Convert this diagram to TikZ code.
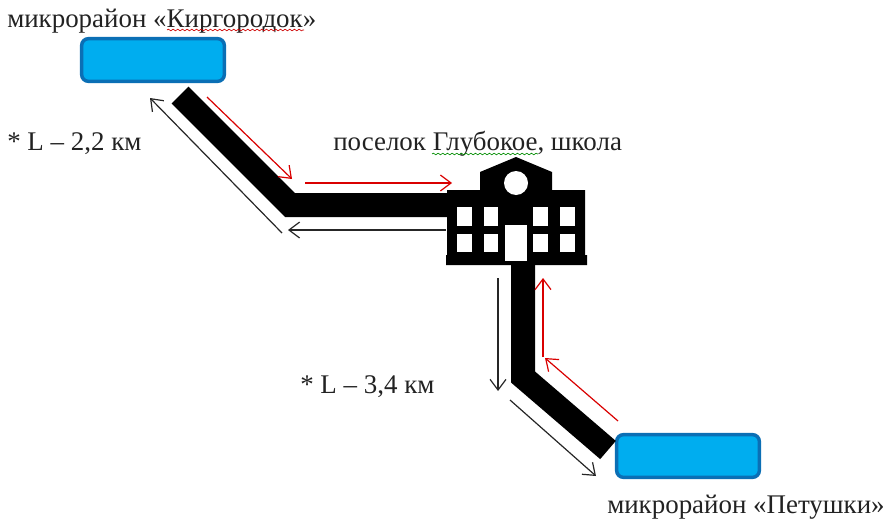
\documentclass[tikz,border=0pt]{standalone}
\usepackage{fontspec}
\setmainfont{Liberation Serif}
\usetikzlibrary{positioning,arrows.meta,decorations.pathmorphing}
\definecolor{areablue}{HTML}{00ADEF}
\definecolor{areaedge}{HTML}{0B6FB5}
\definecolor{txtcol}{HTML}{222222}
\tikzset{area/.style = {rectangle, draw=areaedge, fill=areablue, line width=2.6pt, rounded corners=5pt, minimum width=107pt, minimum height=32pt}, }
\tikzset{place/.style = {text=txtcol, font=\fontsize{20.2}{22}\selectfont, inner sep=0pt, anchor=base west}, }
\tikzset{road/.style = {line width=18pt, black, line join=miter}, }
\tikzset{arrow/.style = {line width=0.9pt, -{Straight Barb[length=8pt,width=12pt,line width=0.9pt]}}, }
\tikzset{window/.style = {fill=white, inner sep=0pt, minimum width=11pt, minimum height=14pt}, }
\tikzset{squiggle/.style = {line width=0.5pt, decorate, decoration={snake,amplitude=0.6pt,segment length=3.5pt}}, }
\begin{document}
\begin{tikzpicture}[x=0.75pt,y=-0.75pt]
  \useasboundingbox (0,0) rectangle (885,521);
  % areas
  \node[area] (A1) at (153,60) {};
  \node[area] (A2) at (688,456) {};
  % school
  \fill (480,190) -- (480,172) -- (516,157) -- (552,172) -- (552,190) -- (585,190) -- (585,255)
        -- (587,255) -- (587,265) -- (446,265) -- (446,255) -- (447,255) -- (447,190) -- cycle;
  \node[circle, fill=white, inner sep=0pt, minimum size=18pt] (clock) at (516,183) {};
  \foreach \wx in {464.5,491,540.5,567.5}
    \foreach \wy in {216.5,243}
      \node[window] at (\wx,\wy) {};
  \node[fill=white, inner sep=0pt, minimum width=16.5pt, minimum height=27pt] (door) at (516,243) {};
  \coordinate (S1) at (447,205);
  \coordinate (S2) at (523,265);
  % roads
  \coordinate (K1) at (180,95);
  \coordinate (K2) at (290,205);
  \coordinate (P1) at (608,450);
  \coordinate (P2) at (523,377);
  \draw[road] (K1) -- (K2) -- (S1);
  \draw[road] (S2) -- (P2) -- (P1);
  % directions
  \coordinate (r1a) at (207,97);
  \coordinate (r1b) at (292,179);
  \coordinate (r2a) at (305,183);
  \coordinate (r2b) at (452,183);
  \coordinate (b1a) at (446,230);
  \coordinate (b1b) at (288,230);
  \coordinate (b2a) at (282,233);
  \coordinate (b2b) at (150,98);
  \coordinate (b3a) at (498,278);
  \coordinate (b3b) at (498,391);
  \coordinate (b4a) at (510,400);
  \coordinate (b4b) at (596,476);
  \coordinate (r3a) at (618,421);
  \coordinate (r3b) at (545,358);
  \coordinate (r4a) at (543,357);
  \coordinate (r4b) at (543,278);
  \draw[arrow, red!85!black] (r1a) -- (r1b);
  \draw[arrow, red!85!black] (r2a) -- (r2b);
  \draw[arrow, red!85!black] (r3a) -- (r3b);
  \draw[arrow, red!85!black] (r4a) -- (r4b);
  \draw[arrow, black!85] (b1a) -- (b1b);
  \draw[arrow, black!85] (b2a) -- (b2b);
  \draw[arrow, black!85] (b3a) -- (b3b);
  \draw[arrow, black!85] (b4a) -- (b4b);
  % labels
  \node[place] (LA1) at (7,27) {микрорайон «Киргородок»};
  \node[place] (LA2) at (607,513) {микрорайон «Петушки»};
  \node[place] (LS) at (333,150) {поселок Глубокое, школа};
  \node[place] (L1) at (7,150) {* L – 2,2 км};
  \node[place] (L2) at (300,393) {* L – 3,4 км};
  \draw[squiggle, red!80!black] (167,30) -- (304,30);
  \draw[squiggle, green!55!black] (432,154) -- (538,154);
\end{tikzpicture}
\end{document}
